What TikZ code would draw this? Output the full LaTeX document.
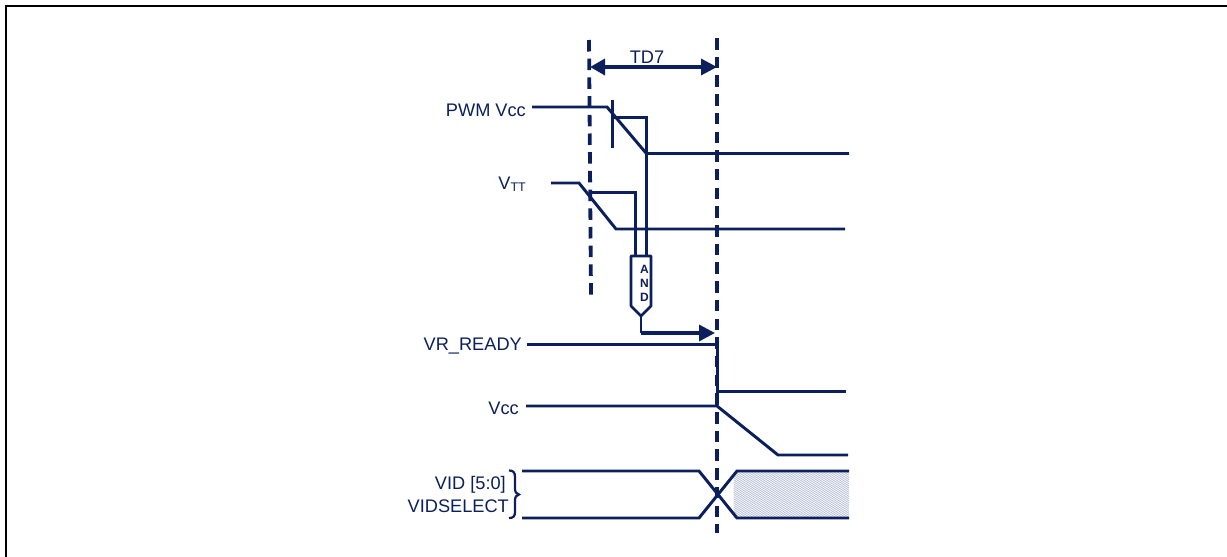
\documentclass[tikz,border=0pt]{standalone}
\usepackage{fontspec}
\setmainfont{Liberation Sans}
\usetikzlibrary{arrows.meta}
\definecolor{navy}{HTML}{0A1F5C}
\definecolor{hatchc}{HTML}{B4BDD5}
\tikzset{
  sig/.style={draw=navy,line width=2.95pt,line join=miter},
  thin sig/.style={draw=navy,line width=2.95pt},
  dashv/.style={draw=navy,line width=3.8pt,dash pattern=on 11.5pt off 7.2pt},
  lab/.style={text=navy,font=\fontsize{18.2}{20}\selectfont,inner sep=0pt,anchor=base east},
  bigarrow/.style={draw=navy,line width=3.4pt,-{Triangle[length=16pt,width=16pt,fill=navy]}},
  gate/.style={draw=navy,line width=2.7pt,fill=white,line join=round},
  gatetext/.style={text=navy,font=\bfseries\fontsize{12}{12}\selectfont,inner sep=0pt,anchor=center}
}
\begin{document}
\begin{tikzpicture}[x=1pt,y=-1pt]
\useasboundingbox (0,0) rectangle (1227,557);
% frame
\draw[black,line width=2.4pt] (6,557) -- (6,6) -- (1227,6);
% labels
\node[lab] (pwm) at (526,116) {PWM Vcc};
\node[lab] (vtt) at (526,189) {V\raisebox{-2.5pt}{\fontsize{12.5}{13}\selectfont TT}};
\node[lab] (vrr) at (522,350) {VR\_READY};
\node[lab] (vcc) at (519,414) {Vcc};
\node[lab] (vid) at (506,489) {VID [5:0]};
\node[lab] (vsel) at (509,512) {VIDSELECT};
\node[text=navy,font=\fontsize{18.2}{20}\selectfont,inner sep=0pt,anchor=base] (td) at (647,63) {TD7};
% dashed verticals
\coordinate (l1) at (589,40); \coordinate (l2) at (591,295);
\coordinate (r1) at (717,38); \coordinate (r2) at (717,533);
% hatch
\begin{scope}
\clip (733.5,472) -- (849,472) -- (849,517) -- (733.5,517) -- cycle;
\foreach \k in {-50,-46.7,...,200}{
  \draw[hatchc,line width=0.7pt] (680+\k,520) -- ++(120,-69.2);
}
\end{scope}
% signals
\coordinate (p0) at (532,107); \coordinate (p1) at (607,107); \coordinate (p2) at (646.4,153.5); \coordinate (p3) at (849,153.5);
\coordinate (v0) at (551,183); \coordinate (v1) at (579,183); \coordinate (v2) at (616,229); \coordinate (v3) at (845,229);
\coordinate (rr0) at (527,344.4); \coordinate (rr1) at (717.4,344.4); \coordinate (rr2) at (717.4,391.4); \coordinate (rr3) at (846,391.4);
\coordinate (c0) at (526,406); \coordinate (c1) at (717,406); \coordinate (c2) at (778,455); \coordinate (c3) at (848,455);
\coordinate (a0) at (522,471); \coordinate (a1) at (699,471); \coordinate (a2) at (737,518); \coordinate (a3) at (849,518);
\coordinate (b0) at (522,518); \coordinate (b1) at (699,518); \coordinate (b2) at (737,471); \coordinate (b3) at (849,471);
\draw[dashv] (l1) -- (l2);
\draw[dashv] (r1) -- (r2);
\draw[sig] (p0) -- (p1) -- (p2) -- (p3);
\draw[sig] (v0) -- (v1) -- (v2) -- (v3);
\draw[sig] (rr0) -- (rr1) -- (rr2) -- (rr3);
\draw[sig] (c0) -- (c1) -- (c2) -- (c3);
\draw[sig] (a0) -- (a1) -- (a2) -- (a3);
\draw[sig] (b0) -- (b1) -- (b2) -- (b3);
% tick and AND inputs
\draw[thin sig] (612.4,100) -- (612.4,148);
\draw[thin sig] (612.4,117.4) -- (646.4,117.4) -- (646.4,256);
\draw[thin sig] (591,192.4) -- (635.5,192.4) -- (635.5,256);
% AND gate
\draw[gate] (631,256) -- (651,256) -- (651,306) -- (641,316) -- (631,306) -- cycle;
\node[gatetext] (ga) at (644.5,269) {A};
\node[gatetext] (gn) at (644.5,283) {N};
\node[gatetext] (gd) at (644.5,297) {D};
\coordinate (g1) at (641,316); \coordinate (g2) at (641,333); \coordinate (g3) at (715,333);
\draw[sig] (g1) -- (g2);
\draw[bigarrow] (g2) -- (g3);
% TD7 arrow
\coordinate (ta) at (590,67); \coordinate (tb) at (717,67);
\draw[bigarrow,{Triangle[length=15pt,width=16pt,fill=navy]}-{Triangle[length=16pt,width=16pt,fill=navy]}] (ta) -- (tb);
% brace
\draw[navy,line width=2.2pt] (509,470.5) .. controls (513,470.5) and (515,472) .. (515,477)
  -- (515,488) .. controls (515,492) and (516,494) .. (519,494.5)
  .. controls (516,495) and (515,497) .. (515,501) -- (515,512)
  .. controls (515,516.5) and (513,518) .. (509,518);
\end{tikzpicture}
\end{document}
